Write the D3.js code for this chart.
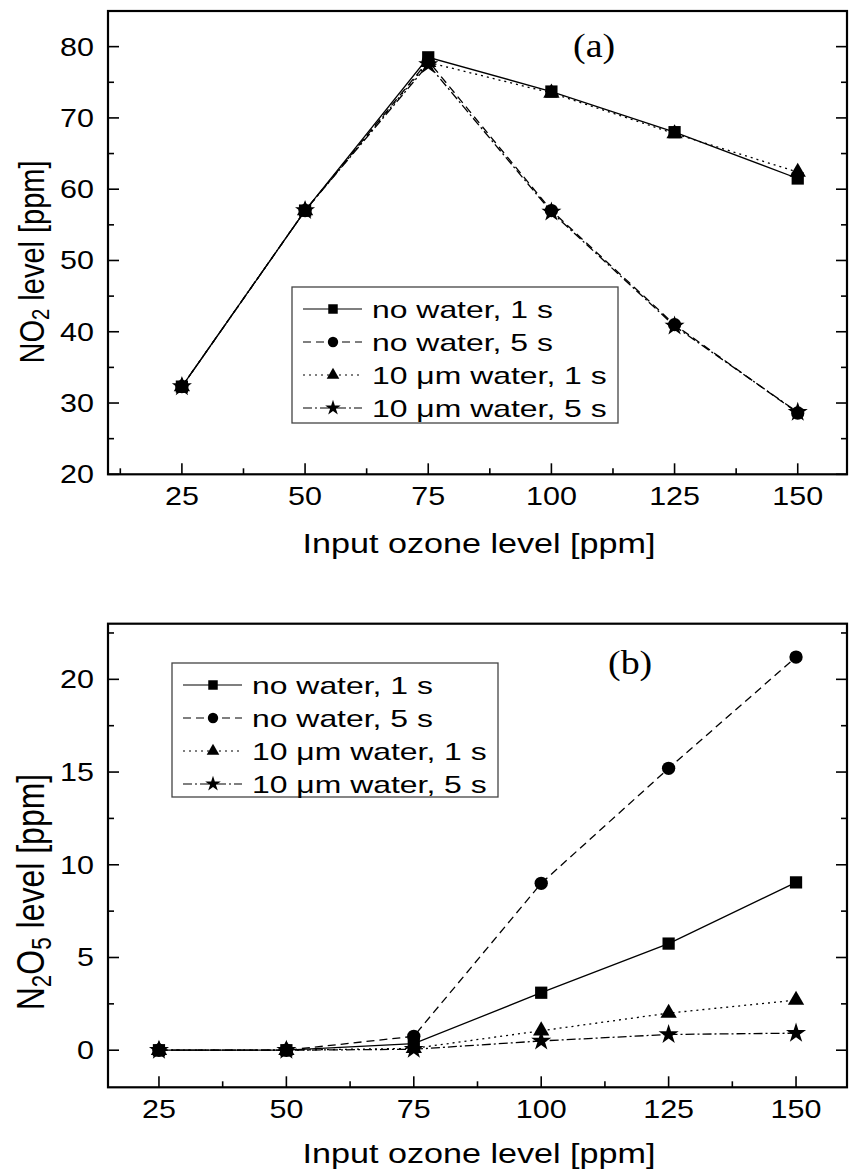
<!DOCTYPE html>
<html>
<head>
<meta charset="utf-8">
<script src="https://cdn.jsdelivr.net/npm/d3@7"></script>
<style>
  body { margin: 0; background: #fff; }
  text { font-family: "Liberation Sans", Arial, sans-serif; fill: #000; }
  .serif { font-family: "Liberation Serif", "Times New Roman", serif; }
</style>
</head>
<body>
<div id="chart"></div>
<script>
// data
var ozone = [25, 50, 75, 100, 125, 150];
var seriesNames = ["no water, 1 s", "no water, 5 s", "10 \u03bcm water, 1 s", "10 \u03bcm water, 5 s"];

// panel (a) NO2 level [ppm]
var no2NoWater1s  = [32.3, 57.0, 78.5, 73.7, 68.0, 61.5];
var no2NoWater5s  = [32.3, 57.0, 78.0, 57.0, 41.0, 28.6];
var no2Water1s    = [32.3, 57.0, 77.8, 73.5, 67.8, 62.4];
var no2Water5s    = [32.3, 57.0, 77.5, 56.8, 40.8, 28.7];

// panel (b) N2O5 level [ppm]
var n2o5NoWater1s = [0, 0, 0.35, 3.1, 5.75, 9.05];
var n2o5NoWater5s = [0, 0, 0.75, 9.0, 15.2, 21.2];
var n2o5Water1s   = [0, 0, 0.1, 1.05, 2.0, 2.7];
var n2o5Water5s   = [0, 0, 0.05, 0.5, 0.85, 0.92];

var xTicks = [25, 50, 75, 100, 125, 150];
var xMinor = [12.5, 37.5, 62.5, 87.5, 112.5, 137.5];
var no2Ticks = [20, 30, 40, 50, 60, 70, 80];
var no2Minor = [25, 35, 45, 55, 65, 75];
var n2o5Ticks = [0, 5, 10, 15, 20];
var n2o5Minor = [2.5, 7.5, 12.5, 17.5, 22.5];

var W = 850, H = 1171;
var svg = d3.select("#chart").append("svg")
  .attr("width", W)
  .attr("height", H);

var symbols = [d3.symbolSquare, d3.symbolCircle, d3.symbolTriangle, d3.symbolStar];
var symSize = [150, 140, 115, 125];
var dashes = [null, "8,5", "2,4", "9,3,2,3"];

var SX = 1.22; // the figure's text is stretched sideways
var left = 108, right = 847;

function stretchText(g, x, y, str, size, anchor, sx) {
  return g.append("text")
    .attr("transform", "translate(" + x + "," + y + ") scale(" + (sx || SX) + ",1)")
    .attr("font-size", size)
    .attr("text-anchor", anchor || "start")
    .text(str);
}

function drawPanel(cfg) {
  var x = d3.scaleLinear().domain(cfg.xDomain).range([left, right]);
  var y = d3.scaleLinear().domain(cfg.yDomain).range([cfg.bottom, cfg.top]);
  var g = svg.append("g");

  // ticks, pointing inward
  xTicks.concat(xMinor).forEach(function(v) {
    if (v < cfg.xDomain[0] || v > cfg.xDomain[1]) return;
    var len = xTicks.indexOf(v) >= 0 ? 11 : 6;
    g.append("line")
      .attr("x1", x(v)).attr("x2", x(v))
      .attr("y1", cfg.bottom).attr("y2", cfg.bottom - len)
      .style("stroke", "#000").style("stroke-width", 1.6);
  });
  cfg.yTicks.concat(cfg.yMinor).forEach(function(v) {
    var len = cfg.yTicks.indexOf(v) >= 0 ? 11 : 6;
    g.append("line")
      .attr("x1", left).attr("x2", left + len)
      .attr("y1", y(v)).attr("y2", y(v))
      .style("stroke", "#000").style("stroke-width", 1.6);
    g.append("line")
      .attr("x1", right).attr("x2", right - len)
      .attr("y1", y(v)).attr("y2", y(v))
      .style("stroke", "#000").style("stroke-width", 1.6);
  });

  // frame
  g.append("rect")
    .attr("x", left).attr("y", cfg.top)
    .attr("width", right - left).attr("height", cfg.bottom - cfg.top)
    .style("fill", "none").style("stroke", "#000").style("stroke-width", 2.2);

  // tick labels
  xTicks.forEach(function(v) {
    stretchText(g, x(v), cfg.bottom + 31, v, 25, "middle");
  });
  cfg.yTicks.forEach(function(v) {
    stretchText(g, 94, y(v) + 9, v, 25, "end");
  });

  // axis titles
  stretchText(g, 479, cfg.bottom + cfg.xTitleDy, "Input ozone level [ppm]", 28, "middle");

  var yt = g.append("text")
    .attr("transform", "translate(44," + cfg.yTitleY + ") rotate(-90) scale(1,1.2)")
    .attr("font-size", cfg.yTitleSize)
    .attr("text-anchor", "middle");
  cfg.yTitle.forEach(function(p) {
    var t = yt.append("tspan").text(p[0]);
    if (p[1]) t.attr("baseline-shift", "-22%").attr("font-size", "70%");
  });

  // series lines
  var line = d3.line()
    .x(function(d, i) { return x(ozone[i]); })
    .y(function(d) { return y(d); });

  cfg.series.forEach(function(s, k) {
    g.append("path")
      .attr("d", line(s))
      .style("fill", "none")
      .style("stroke", "#000")
      .style("stroke-width", 1.3)
      .style("stroke-dasharray", dashes[k]);
  });
  cfg.series.forEach(function(s, k) {
    g.selectAll(null)
      .data(s)
      .enter().append("path")
      .attr("transform", function(d, i) { return "translate(" + x(ozone[i]) + "," + y(d) + ")"; })
      .attr("d", d3.symbol().type(symbols[k]).size(symSize[k]))
      .style("fill", "#000");
  });

  // legend
  var L = cfg.legend;
  var lg = g.append("g");
  lg.append("rect")
    .attr("x", L.x).attr("y", L.y)
    .attr("width", L.w).attr("height", L.h)
    .style("fill", "#fff").style("stroke", "#444").style("stroke-width", 1.3);
  seriesNames.forEach(function(name, k) {
    var cy = L.y + 22 + k * 33;
    lg.append("line")
      .attr("x1", L.x + 11).attr("x2", L.x + 70)
      .attr("y1", cy).attr("y2", cy)
      .style("stroke", "#000").style("stroke-width", 1.2)
      .style("stroke-dasharray", dashes[k]);
    lg.append("path")
      .attr("transform", "translate(" + (L.x + 41) + "," + cy + ")")
      .attr("d", d3.symbol().type(symbols[k]).size(symSize[k] * 0.6))
      .style("fill", "#000");
    stretchText(lg, L.x + 80, cy + 8.5, name, 24, "start", 1.33);
  });

  // panel letter
  stretchText(g, cfg.letter[0], cfg.letter[1], cfg.letter[2], 33, "start", 1.15)
    .attr("class", "serif");
}

drawPanel({
  xDomain: [10, 160], yDomain: [20, 85], top: 11, bottom: 474.3,
  yTicks: no2Ticks, yMinor: no2Minor,
  series: [no2NoWater1s, no2NoWater5s, no2Water1s, no2Water5s],
  yTitle: [["NO"], ["2", true], [" level [ppm]"]], yTitleY: 262, yTitleSize: 29,
  xTitleDy: 79,
  legend: { x: 292, y: 287, w: 326, h: 136 },
  letter: [573, 57, "(a)"]
});

drawPanel({
  xDomain: [15, 160], yDomain: [-2, 23], top: 623.7, bottom: 1087.3,
  yTicks: n2o5Ticks, yMinor: n2o5Minor,
  series: [n2o5NoWater1s, n2o5NoWater5s, n2o5Water1s, n2o5Water5s],
  yTitle: [["N"], ["2", true], ["O"], ["5", true], [" level [ppm]"]], yTitleY: 892, yTitleSize: 32,
  xTitleDy: 76,
  legend: { x: 172, y: 663, w: 326, h: 134 },
  letter: [608, 674, "(b)"]
});
</script>
</body>
</html>
